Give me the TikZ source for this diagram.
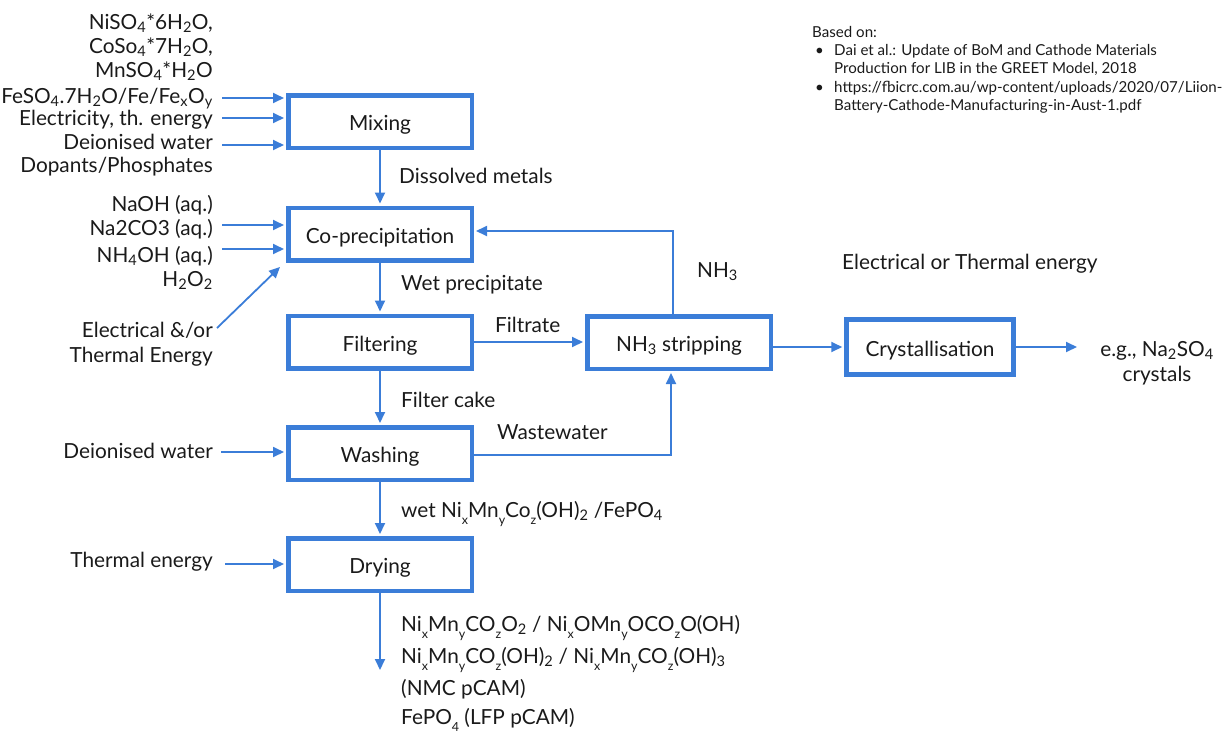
\documentclass[tikz,border=0pt]{standalone}
\usepackage{fontspec}
\setmainfont{Lato}
\usetikzlibrary{arrows.meta}
\definecolor{flowblue}{HTML}{3B7DD8}
\definecolor{ink}{HTML}{1A1A1A}
% chemical subscripts
\newcommand{\sbs}[1]{\textsubscript{#1}}
\newcommand{\idx}[1]{\raisebox{-0.35em}{\fontsize{12.5}{12.5}\selectfont #1}}

\begin{document}
\begin{tikzpicture}[x=1pt,y=-1pt,
  every node/.style={inner sep=0pt, text=ink, font=\fontsize{20.8}{25}\selectfont},
  proc/.style={draw=flowblue, line width=4.5pt, minimum width=183.5pt, minimum height=52.5pt,
    fill=white, text height=18pt, text depth=0pt},
  flow/.style={draw=flowblue, line width=1.8pt, -{Triangle[length=11pt,width=10pt]}, shorten >=2pt},
  lbl/.style={anchor=mid west, yshift=-4pt},
  inl/.style={anchor=mid east, yshift=-4pt},
  note/.style={anchor=mid west, yshift=-3pt, font=\fontsize{15.1}{18}\selectfont}
]
\useasboundingbox (0,0) rectangle (1225,734);

% process units
\node[proc] (mix)  at (380,121.5) {Mixing};
\node[proc] (cop)  at (380,234)   {Co-precipitation};
\node[proc] (fil)  at (380,342)   {Filtering};
\node[proc] (wash) at (380,453.5) {Washing};
\node[proc] (dry)  at (380,564.5) {Drying};
\node[proc] (strip) at (679,342.5) {NH\sbs{3} stripping};
\node[proc, minimum width=167pt, minimum height=55pt] (cry) at (930,347) {Crystallisation};

% feeds to mixing
\node[inl] (m1) at (213,23)  {NiSO\sbs{4}*6H\sbs{2}O,};
\node[inl] (m2) at (213,47)  {CoSo\sbs{4}*7H\sbs{2}O,};
\node[inl] (m3) at (213,71)  {MnSO\sbs{4}*H\sbs{2}O};
\node[inl] (m4) at (213,97)  {FeSO\sbs{4}.7H\sbs{2}O/Fe/Fe\sbs{x}O\sbs{y}};
\node[inl] (m5) at (213,119) {Electricity, th. energy};
\node[inl] (m6) at (213,143) {Deionised water};
\node[inl] (m7) at (213,166) {Dopants/Phosphates};
\coordinate (ma) at (222,98);
\coordinate (mb) at (222,118);
\coordinate (mc) at (222,145);
\foreach \c in {ma,mb,mc}
  \draw[flow] (\c) -- (\c -| mix.west);

% feeds to co-precipitation
\node[inl] (c1) at (213,205) {NaOH (aq.)};
\node[inl] (c2) at (213,229) {Na2CO3 (aq.)};
\node[inl] (c3) at (213,256) {NH\sbs{4}OH (aq.)};
\node[inl] (c4) at (213,280) {H\sbs{2}O\sbs{2}};
\coordinate (ca) at (222,225);
\coordinate (cb) at (222,249);
\draw[flow] (ca) -- (ca -| cop.west);
\draw[flow] (cb) -- (cb -| cop.west);
\node[anchor=east, align=right, yshift=-3pt] (cen) at (213,341.5) {Electrical \&/or\\Thermal Energy};
\coordinate (ea) at (217,328);
\coordinate (eb) at (280,267);
\draw[flow, shorten >=0pt] (ea) -- (eb);

% main line
\draw[flow] (mix) -- (cop);
\draw[flow] (cop) -- (fil);
\draw[flow] (fil) -- (wash);
\draw[flow] (wash) -- (dry);
\coordinate (dend) at (380,670);
\draw[flow, shorten >=0pt] (dry.south) -- (dend);

\node[lbl] (l1) at (399,177) {Dissolved metals};
\node[lbl] (l2) at (401,284) {Wet precipitate};
\node[lbl] (l3) at (401,401) {Filter cake};
\node[lbl] (l4) at (401,511) {wet Ni\idx{x}Mn\idx{y}Co\idx{z}(OH)\sbs{2} /FePO\sbs{4}};

% washing and drying inputs
\node[inl] (w1) at (213,452) {Deionised water};
\coordinate (wa) at (221,452);
\draw[flow] (wa) -- (wa -| wash.west);
\node[inl] (d1) at (213,561) {Thermal energy};
\coordinate (da) at (225,564);
\draw[flow] (da) -- (da -| dry.west);

% filtrate, ammonia recycle, wastewater
\draw[flow] (fil.east) -- (fil.east -| strip.west);
\node[lbl] (l5) at (495,326) {Filtrate};
\coordinate (nr) at (673,231);
\draw[flow] (strip.north -| nr) -- (nr) -- (nr -| cop.east);
\node[lbl] (l6) at (697,271) {NH\sbs{3}};
\coordinate (ww) at (671,455);
\draw[flow] (ww -| wash.east) -- (ww) -- (ww |- strip.south);
\node[lbl] (l7) at (497,433) {Wastewater};

% crystallisation
\node[lbl] (l8) at (842,263) {Electrical or Thermal energy};
\draw[flow] (strip.east |- cry.west) -- (cry.west);
\coordinate (cend) at (1077,347);
\draw[flow, shorten >=0pt] (cry.east) -- (cend);
\node[align=center, yshift=-3pt] (prod) at (1157,360) {e.g., Na\sbs{2}SO\sbs{4}\\crystals};

% products
\node[lbl] (p1) at (401,625) {Ni\idx{x}Mn\idx{y}CO\idx{z}O\sbs{2} / Ni\idx{x}OMn\idx{y}OCO\idx{z}O(OH)};
\node[lbl] (p2) at (401,657) {Ni\idx{x}Mn\idx{y}CO\idx{z}(OH)\sbs{2} / Ni\idx{x}Mn\idx{y}CO\idx{z}(OH)\sbs{3}};
\node[lbl] (p3) at (401,689) {(NMC pCAM)};
\node[lbl] (p4) at (401,718) {FePO\idx{4} (LFP pCAM)};

% sources
\node[note] (s0) at (812,32) {Based on:};
\node[note] (b1) at (815,50) {•};
\node[note] (s1) at (834,50) {Dai et al.: Update of BoM and Cathode Materials};
\node[note] (s2) at (834,68) {Production for LIB in the GREET Model, 2018};
\node[note] (b2) at (815,87) {•};
\node[note] (s3) at (834,87) {https://fbicrc.com.au/wp-content/uploads/2020/07/Liion-};
\node[note] (s4) at (834,105) {Battery-Cathode-Manufacturing-in-Aust-1.pdf};
\end{tikzpicture}
\end{document}
